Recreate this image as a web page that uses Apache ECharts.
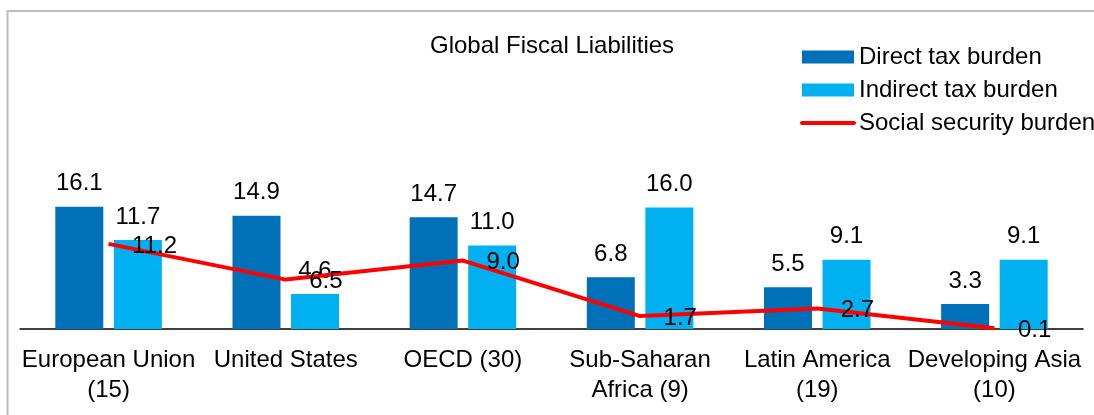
<!DOCTYPE html>
<html>
<head>
<meta charset="utf-8">
<script src="https://cdn.jsdelivr.net/npm/echarts@6/dist/echarts.min.js"></script>
<style>
  html, body { margin: 0; padding: 0; background: #fff; }
  #chart { width: 1094px; height: 415px; }
</style>
</head>
<body>
<div id="chart"></div>
<script>
// Regions compared (number of countries in brackets)
const categories = [
  'European Union\n(15)',
  'United States',
  'OECD (30)',
  'Sub-Saharan\nAfrica (9)',
  'Latin America\n(19)',
  'Developing Asia\n(10)'
];

// Burden values, per cent of GDP
const directTax = [16.1, 14.9, 14.7, 6.8, 5.5, 3.3];
const indirectTax = [11.7, 4.6, 11.0, 16.0, 9.1, 9.1];
const socialSecurity = [11.2, 6.5, 9.0, 1.7, 2.7, 0.1];

const FONT = '"Liberation Sans", Arial, sans-serif';
const TEXT = '#000000';
const FS = 24;

const chart = echarts.init(document.getElementById('chart'), null, { renderer: 'canvas' });

const fmt = p => p.value.toFixed(1);

chart.setOption({
  animation: false,
  backgroundColor: '#ffffff',
  textStyle: { fontFamily: FONT, color: TEXT },
  graphic: [{
    type: 'rect',
    shape: { x: 7.5, y: 11, width: 1200, height: 600 },
    style: { fill: 'none', stroke: '#BDBDBD', lineWidth: 2 },
    silent: true,
    z: -1
  }],
  title: {
    text: 'Global Fiscal Liabilities',
    left: 430,
    top: 34,
    padding: 0,
    textStyle: { fontFamily: FONT, fontSize: FS, fontWeight: 'normal', color: TEXT }
  },
  legend: {
    orient: 'vertical',
    left: 800,
    top: 45,
    padding: 0,
    itemWidth: 52,
    itemHeight: 13,
    itemGap: 9,
    textStyle: { fontFamily: FONT, fontSize: FS, color: TEXT, padding: [0, 0, 0, 0] },
    data: [
      { name: 'Direct tax burden', icon: 'rect' },
      { name: 'Indirect tax burden', icon: 'rect' },
      { name: 'Social security burden', lineStyle: { width: 4, cap: 'round' } }
    ]
  },
  grid: { left: 20, right: 11, top: 177, bottom: 86, containLabel: false },
  xAxis: {
    type: 'category',
    data: categories,
    axisTick: { show: false },
    axisLine: { lineStyle: { color: '#000000', width: 1.5 } },
    axisLabel: {
      interval: 0,
      margin: 16,
      fontFamily: FONT,
      fontSize: FS,
      lineHeight: 30,
      color: TEXT
    }
  },
  yAxis: {
    type: 'value',
    min: 0,
    max: 20,
    show: false,
    splitLine: { show: false }
  },
  series: [
    {
      name: 'Direct tax burden',
      type: 'bar',
      data: directTax,
      barWidth: 48,
      barGap: '22%',
      itemStyle: { color: '#0070B8' },
      label: {
        show: true, position: 'top', distance: 11,
        formatter: fmt, fontFamily: FONT, fontSize: FS, color: TEXT
      }
    },
    {
      name: 'Indirect tax burden',
      type: 'bar',
      data: indirectTax,
      barWidth: 48,
      barGap: '22%',
      itemStyle: { color: '#00B0F0' },
      label: {
        show: true, position: 'top', distance: 11,
        formatter: fmt, fontFamily: FONT, fontSize: FS, color: TEXT
      }
    },
    {
      name: 'Social security burden',
      type: 'line',
      data: socialSecurity,
      symbol: 'circle',
      symbolSize: 1,
      showSymbol: true,
      itemStyle: { color: 'rgba(255,0,0,0)', borderWidth: 0 },
      lineStyle: { color: '#FF0000', width: 4 },
      z: 3,
      label: {
        show: true, position: 'right', distance: 23, offset: [0, 2],
        formatter: fmt, fontFamily: FONT, fontSize: FS, color: TEXT
      }
    }
  ]
});
</script>
</body>
</html>
